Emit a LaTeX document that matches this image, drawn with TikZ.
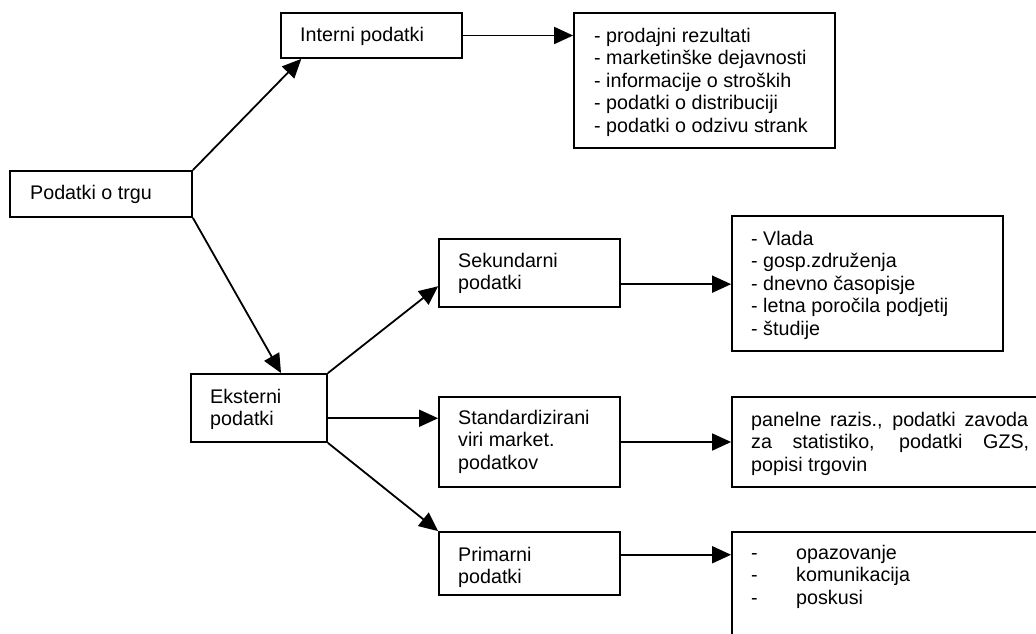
\documentclass[tikz,border=0pt]{standalone}
\usepackage{fontspec}
\setmainfont{Liberation Sans}
\usetikzlibrary{arrows.meta,calc}
\begin{document}
\begin{tikzpicture}[x=1pt,y=-1pt,
  box/.style={draw,line width=1.8pt,rectangle,inner sep=0pt,minimum width=#1},
  txt/.style={anchor=base west,inner sep=0pt,font=\fontsize{19.7}{22.5}\selectfont},
  arr/.style={line width=1.8pt,-{Triangle[length=19pt,width=17pt]}}]
\useasboundingbox (0,0) rectangle (1036,634);
\clip (0,0) rectangle (1036,634);
\fill[white] (0,0) rectangle (1036,634);

% boxes
\node[box=182pt,minimum height=46pt]  (trg)      at (101,194)   {};
\node[box=181pt,minimum height=45pt]  (interni)  at (371.5,35.5){};
\node[box=261pt,minimum height=135pt] (intlist)  at (704.5,80.5){};
\node[box=136pt,minimum height=68pt]  (eksterni) at (259,408)   {};
\node[box=181pt,minimum height=68pt]  (sek)      at (529.5,273) {};
\node[box=271pt,minimum height=135pt] (seklist)  at (867.5,283.5){};
\node[box=181pt,minimum height=90pt]  (std)      at (529.5,442) {};
\node[box=328pt,minimum height=90pt]  (stdlist)  at (896,442)   {};
\node[box=181pt,minimum height=63pt]  (prim)     at (529.5,563.5){};
\node[box=328pt,minimum height=148pt] (primlist) at (896,606)   {};

% labels
\node[txt] (ttrg) at (30,199) {Podatki o trgu};
\node[txt] (tint) at (300,42) {Interni podatki};
\node[txt] (tintl) at (594,42.3) {\parbox[t]{240pt}{\raggedright
  - prodajni rezultati\\
  - marketinške dejavnosti\\
  - informacije o stroških\\
  - podatki o distribuciji\\
  - podatki o odzivu strank}};
\node[txt] (teks) at (210,403) {\parbox[t]{120pt}{\raggedright Eksterni\\ podatki}};
\node[txt] (tsek) at (458,267) {\parbox[t]{160pt}{\raggedright Sekundarni\\ podatki}};
\node[txt] (tsekl) at (751,245) {\parbox[t]{250pt}{\raggedright
  - Vlada\\
  - gosp.združenja\\
  - dnevno časopisje\\
  - letna poročila podjetij\\
  - študije}};
\node[txt] (tstd) at (458,424) {\parbox[t]{160pt}{\raggedright Standardizirani\\ viri market.\\ podatkov}};
\node[txt] (tstdl) at (751,426) {\parbox[t]{280pt}{\raggedright
  \makebox[277pt][s]{panelne razis., podatki zavoda}\\
  \makebox[278pt][s]{za statistiko, podatki GZS,}\\
  popisi trgovin}};
\node[txt] (tprim) at (458,561) {\parbox[t]{160pt}{\raggedright Primarni\\ podatki}};
\node[txt] (tpriml) at (751,559) {\parbox[t]{250pt}{\raggedright
  \makebox[45pt][l]{-}opazovanje\\
  \makebox[45pt][l]{-}komunikacija\\
  \makebox[45pt][l]{-}poskusi}};

% connectors
\draw[arr] (trg.north east) -- ($(interni.south west)!0.116!(interni.south east)$);
\draw[arr] (trg.south east) -- ($(eksterni.north west)!0.66!(eksterni.north east)$);
\draw[arr] (eksterni.north east) -- ($(sek.north west)!0.69!(sek.south west)$);
\coordinate (eo) at ($(eksterni.north east)!0.647!(eksterni.south east)$);
\draw[arr] (eo) -- (eo -| std.west);
\draw[arr] (eksterni.south east) -- (prim.north west);
\draw[arr] (interni.east) -- (interni.east -| intlist.west);
\coordinate (so) at ($(sek.north east)!0.66!(sek.south east)$);
\draw[arr] (so) -- (so -| seklist.west);
\draw[arr] (std.east) -- (std.east -| stdlist.west);
\coordinate (po) at ($(prim.north east)!0.365!(prim.south east)$);
\draw[arr] (po) -- (po -| primlist.west);
\end{tikzpicture}
\end{document}
